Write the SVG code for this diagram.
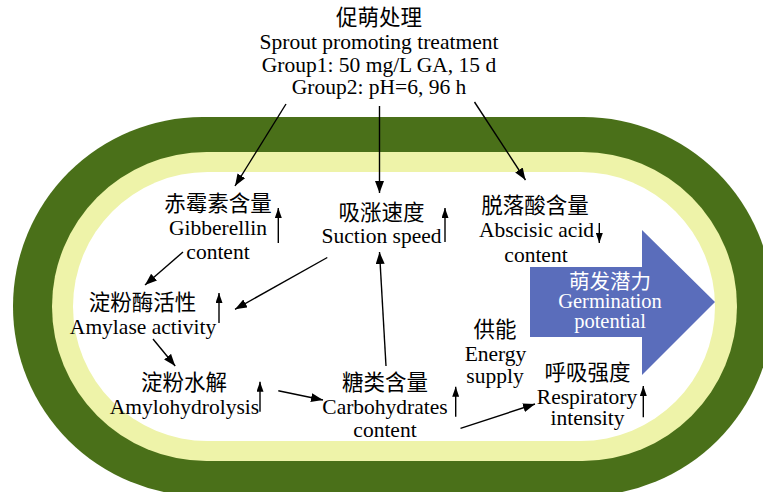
<svg xmlns="http://www.w3.org/2000/svg" width="763" height="492" viewBox="0 0 763 492">
<defs>
<style>
text{font-family:"Liberation Serif","Noto Sans CJK SC",serif;font-size:21.5px;fill:#000;text-anchor:middle}
.w{fill:#fff;font-size:20.5px}
.c{stroke:#000;stroke-width:1.4;fill:none;marker-end:url(#ah)}
.i{stroke:#000;stroke-width:1.4;fill:none;marker-end:url(#as)}
</style>
<marker id="ah" markerUnits="userSpaceOnUse" markerWidth="12" markerHeight="9" refX="12" refY="4.5" orient="auto"><path d="M0,0 L12,4.5 L0,9 z" fill="#000"/></marker>
<marker id="as" markerUnits="userSpaceOnUse" markerWidth="10" markerHeight="7" refX="10" refY="3.5" orient="auto"><path d="M0,0 L10,3.5 L0,7 z" fill="#000"/></marker>
</defs>
<rect width="763" height="492" fill="#fff"/>
<g id="background">
<rect x="13" y="117" width="760" height="379" rx="189.5" fill="#4a7019"/>
<rect x="52" y="152" width="685" height="309" rx="154.5" fill="#eef3a9"/>
<rect x="73" y="172" width="642" height="269" rx="134.5" fill="#fff"/>
</g>
<g id="treatment">
<text x="379" y="25">促萌处理</text>
<text x="379" y="49">Sprout promoting treatment</text>
<text x="379" y="72">Group1: 50 mg/L GA, 15 d</text>
<text x="379" y="94">Group2: pH=6, 96 h</text>
</g>
<g id="germination">
<path d="M530,267 L642,267 L642,230 L715,302 L642,375 L642,337 L530,337 z" fill="#5a6dbb"/>
<text class="w" x="610" y="288.5">萌发潜力</text>
<text class="w" x="610" y="308">Germination</text>
<text class="w" x="610" y="327.5">potential</text>
</g>
<g id="gibberellin">
<text x="218" y="211">赤霉素含量</text>
<text x="218" y="235">Gibberellin</text>
<text x="218" y="259">content</text>
<line class="i" x1="278.3" y1="243" x2="278.3" y2="208"/>
</g>
<g id="suction">
<text x="381.5" y="220">吸涨速度</text>
<text x="381.5" y="243">Suction speed</text>
<line class="i" x1="445" y1="242" x2="445" y2="208"/>
</g>
<g id="abscisic">
<text x="535" y="213">脱落酸含量</text>
<text x="536.5" y="237">Abscisic acid</text>
<text x="536" y="261.5">content</text>
<line class="i" x1="599.3" y1="223" x2="599.3" y2="243"/>
</g>
<g id="amylase">
<text x="142.5" y="310">淀粉酶活性</text>
<text x="143" y="334">Amylase activity</text>
<line class="i" x1="219" y1="323" x2="219" y2="293"/>
</g>
<g id="amylohydrolysis">
<text x="184" y="390">淀粉水解</text>
<text x="184.5" y="413.5">Amylohydrolysis</text>
<line class="i" x1="260" y1="411.7" x2="260" y2="381.7"/>
</g>
<g id="carbohydrates">
<text x="385" y="390">糖类含量</text>
<text x="385" y="413.5">Carbohydrates</text>
<text x="385" y="437">content</text>
<line class="i" x1="455.7" y1="416.7" x2="455.7" y2="386.7"/>
</g>
<g id="energy">
<text x="495" y="337">供能</text>
<text x="495.5" y="361">Energy</text>
<text x="495" y="383">supply</text>
</g>
<g id="respiratory">
<text x="587.5" y="380">呼吸强度</text>
<text x="587" y="404">Respiratory</text>
<text x="587.5" y="425">intensity</text>
<line class="i" x1="643.3" y1="417.3" x2="643.3" y2="386"/>
</g>
<g id="connectors">
<line class="c" x1="286" y1="104" x2="235" y2="186"/>
<line class="c" x1="379.5" y1="106" x2="379.5" y2="193"/>
<line class="c" x1="474.5" y1="102" x2="525.5" y2="180"/>
<line class="c" x1="183" y1="252" x2="145" y2="285"/>
<line class="c" x1="327.3" y1="257.5" x2="235" y2="309.3"/>
<line class="c" x1="153" y1="339" x2="175.2" y2="366"/>
<line class="c" x1="278.3" y1="390.7" x2="323" y2="400"/>
<line class="c" x1="386" y1="366" x2="379.5" y2="252"/>
<line class="c" x1="460.5" y1="428.3" x2="535" y2="404"/>
</g>
</svg>
